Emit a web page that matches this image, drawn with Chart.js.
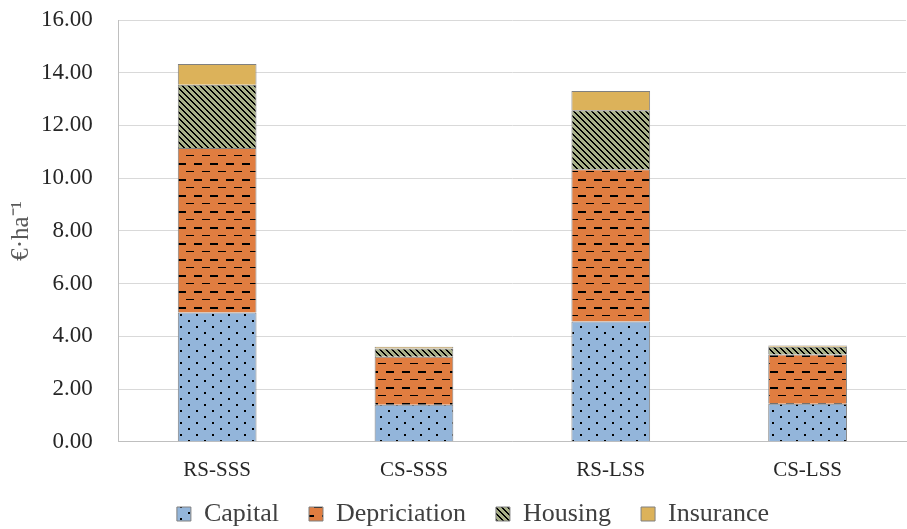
<!DOCTYPE html>
<html>
<head>
<meta charset="utf-8">
<script src="https://cdn.jsdelivr.net/npm/chart.js@4"></script>
<style>
  body { margin: 0; background: #fff; }
</style>
</head>
<body>
<canvas id="costChart" width="907" height="529"></canvas>
<script>
const categories = ['RS-SSS', 'CS-SSS', 'RS-LSS', 'CS-LSS'];
const capital = [4.90, 1.41, 4.56, 1.44];
const depriciation = [6.24, 1.82, 5.78, 1.87];
const housing = [2.40, 0.31, 2.24, 0.30];
const insurance = [0.79, 0.07, 0.73, 0.04];
const yTicks = [0, 2, 4, 6, 8, 10, 12, 14, 16];

function makePattern(bg, w, h, draw) {
  const c = document.createElement('canvas');
  c.width = w;
  c.height = h;
  const ctx = c.getContext('2d');
  ctx.fillStyle = bg;
  ctx.fillRect(0, 0, w, h);
  ctx.fillStyle = '#000';
  draw(ctx);
  return document.getElementById('costChart').getContext('2d').createPattern(c, 'repeat');
}

const dotPattern = makePattern('#93b5da', 16, 12, (ctx) => {
  ctx.fillRect(4, 2, 2, 2);
  ctx.fillRect(12, 8, 2, 2);
});

const dashPattern = makePattern('#e07d40', 16, 16, (ctx) => {
  ctx.fillRect(2, 3, 8, 2);
  ctx.fillRect(10, 11, 8, 1);
  ctx.fillRect(0, 11, 2, 1);
});

const stripePattern = makePattern('#a8b088', 6, 6, (ctx) => {
  for (let i = 0; i < 6; i++) {
    ctx.fillRect(i, i, 2, 1);
  }
  ctx.fillRect(0, 5, 1, 1);
});

const insuranceColor = '#dcb25a';

// keep the legend short and move it a bit, like the original
const legendTweak = {
  id: 'legendTweak',
  beforeLayout(chart) {
    const lg = chart.legend;
    if (lg && !lg._tweaked) {
      const fit = lg.fit.bind(lg);
      lg.fit = function () {
        fit();
        this.height = 38;
      };
      lg._tweaked = true;
    }
  },
  afterLayout(chart) {
    chart.legend.left += 38;
    chart.legend.top -= 20;
  }
};

new Chart(document.getElementById('costChart'), {
  type: 'bar',
  data: {
    labels: categories,
    datasets: [
      { label: 'Capital', data: capital, backgroundColor: dotPattern },
      { label: 'Depriciation', data: depriciation, backgroundColor: dashPattern },
      { label: 'Housing', data: housing, backgroundColor: stripePattern },
      { label: 'Insurance', data: insurance, backgroundColor: insuranceColor }
    ].map((d) => Object.assign(d, {
      borderColor: '#808080',
      borderWidth: 1,
      barPercentage: 0.4,
      categoryPercentage: 1
    }))
  },
  plugins: [legendTweak],
  options: {
    responsive: false,
    animation: false,
    layout: { padding: { left: 2, right: 1, top: 20, bottom: 0 } },
    plugins: {
      legend: {
        position: 'bottom',
        labels: {
          font: { family: 'Liberation Serif', size: 26 },
          color: '#404040',
          boxWidth: 14,
          boxHeight: 14,
          padding: 30
        }
      },
      tooltip: { enabled: false }
    },
    scales: {
      x: {
        stacked: true,
        grid: { display: false },
        border: { color: '#bfbfbf' },
        ticks: {
          font: { family: 'Liberation Serif', size: 21 },
          color: '#262626',
          padding: 8
        }
      },
      y: {
        stacked: true,
        min: 0,
        max: 16,
        afterBuildTicks: (axis) => {
          axis.ticks = yTicks.map((v) => ({ value: v }));
        },
        grid: { color: '#d9d9d9', drawTicks: true, tickLength: 22, tickColor: 'rgba(0,0,0,0)' },
        border: { color: '#bfbfbf' },
        ticks: {
          font: { family: 'Liberation Serif', size: 23 },
          color: '#262626',
          padding: 4,
          callback: (v) => Number(v).toFixed(2)
        },
        title: {
          display: true,
          text: '€·ha⁻¹',
          font: { family: 'Liberation Serif', size: 25 },
          color: '#595959',
          padding: { top: 4, bottom: 1 }
        }
      }
    }
  }
});
</script>
</body>
</html>
